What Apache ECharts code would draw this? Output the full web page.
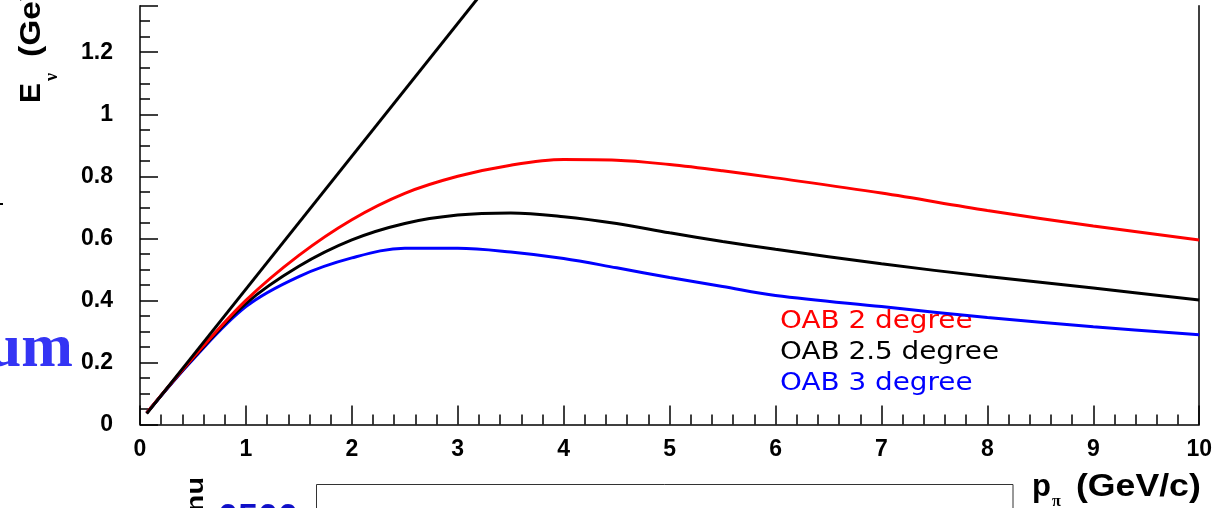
<!DOCTYPE html>
<html>
<head>
<meta charset="utf-8">
<script src="https://cdn.jsdelivr.net/npm/echarts@6/dist/echarts.min.js"></script>
<style>
html,body{margin:0;padding:0;background:#fff;}
#chart{width:1215px;height:508px;}
</style>
</head>
<body>
<div id="chart"></div>
<script>
// ---- data ----
const seriesNames = ['OAB 2 degree', 'OAB 2.5 degree', 'OAB 3 degree'];
const seriesColors = ['#ff0000', '#000000', '#0000ff'];
const pPion  = [0.063, 0.5, 1, 1.5, 2, 2.5, 3, 3.5, 4, 4.5, 5, 5.5, 6, 7, 8, 9, 10];
const eOAB2  = [0.037, 0.215, 0.40, 0.545, 0.66, 0.745, 0.80, 0.836, 0.854, 0.852, 0.838, 0.818, 0.795, 0.746, 0.69, 0.64, 0.595];
const eOAB25 = [0.037, 0.213, 0.39, 0.51, 0.595, 0.648, 0.675, 0.682, 0.67, 0.648, 0.618, 0.59, 0.565, 0.518, 0.477, 0.44, 0.401];
const eOAB3  = [0.037, 0.21, 0.38, 0.477, 0.537, 0.568, 0.568, 0.556, 0.535, 0.505, 0.474, 0.445, 0.416, 0.38, 0.345, 0.315, 0.289];
const onAxisP = [0.063, 3.25];
const onAxisE = [0.035, 1.40];
const xTicks = [0, 1, 2, 3, 4, 5, 6, 7, 8, 9, 10];
const yTickStep = 0.2;

const chart = echarts.init(document.getElementById('chart'), null, {renderer: 'canvas'});

const labelFont = {fontFamily: 'Liberation Sans', fontWeight: 'bold', fontSize: 23, color: '#000'};
const zip = (xs, ys) => xs.map((x, i) => [x, ys[i]]);
const curveSeries = [eOAB2, eOAB25, eOAB3].map((vals, i) => ({
  name: seriesNames[i], type: 'line', data: zip(pPion, vals), smooth: 0.35,
  showSymbol: false, symbol: 'none', lineStyle: {color: seriesColors[i], width: 3}, z: 3 - i
}));

const option = {
  animation: false,
  backgroundColor: '#fff',
  grid: {left: 140, right: 12.3, top: 5.7, bottom: 83.5, containLabel: false},
  xAxis: {
    type: 'value', min: xTicks[0], max: xTicks[xTicks.length - 1], interval: 1,
    axisLine: {show: true, lineStyle: {color: '#000', width: 1.5}},
    axisTick: {show: true, inside: true, length: 19, lineStyle: {color: '#000', width: 1.5}},
    minorTick: {show: true, splitNumber: 5, length: 10, lineStyle: {color: '#000', width: 1.5}},
    splitLine: {show: false},
    axisLabel: Object.assign({margin: 14}, labelFont)
  },
  yAxis: [{
    type: 'value', min: 0, max: 1.35, interval: yTickStep,
    axisLine: {show: true, lineStyle: {color: '#000', width: 1.5}},
    axisTick: {show: true, inside: true, length: 18, lineStyle: {color: '#000', width: 1.5}},
    minorTick: {show: true, splitNumber: 4, length: 10, lineStyle: {color: '#000', width: 1.5}},
    splitLine: {show: false},
    axisLabel: Object.assign({margin: 27, showMaxLabel: false}, labelFont)
  }, {
    type: 'value', min: 0, max: 1.35, position: 'right',
    axisLine: {show: true, onZero: false, lineStyle: {color: '#000', width: 1.5}},
    axisTick: {show: false}, axisLabel: {show: false}, splitLine: {show: false}
  }],
  series: [
    {name: 'on-axis', type: 'line', data: zip(onAxisP, onAxisE), clip: false,
     showSymbol: false, symbol: 'none', lineStyle: {color: '#000', width: 3}, z: 4}
  ].concat(curveSeries),
  graphic: [
    // legend-like labels
    ...seriesNames.map((n, i) => ({
      type: 'text', x: 780, y: 322 + i * 31, scaleX: 1.16,
      style: {text: n, fill: seriesColors[i], font: '24px "DejaVu Sans"', align: 'left', verticalAlign: 'middle'}
    })),
    // y axis title (rotated, cut at top)
    {type: 'text', x: 32, y: 103, rotation: Math.PI / 2,
     style: {text: 'E', fill: '#000', font: 'bold 30px "Liberation Sans"', align: 'left', verticalAlign: 'middle'}},
    {type: 'text', x: 52, y: 81, rotation: Math.PI / 2,
     style: {text: 'ν', fill: '#000', font: 'bold 18px "Liberation Serif"', align: 'left', verticalAlign: 'middle'}},
    {type: 'text', x: 32, y: 57, rotation: Math.PI / 2, scaleX: 1.12,
     style: {text: '(GeV)', fill: '#000', font: 'bold 30px "Liberation Sans"', align: 'left', verticalAlign: 'middle'}},
    // x axis title
    {type: 'text', x: 1032, y: 487,
     style: {text: 'p', fill: '#000', font: 'bold 31px "Liberation Sans"', align: 'left', verticalAlign: 'middle'}},
    {type: 'text', x: 1052, y: 502,
     style: {text: 'π', fill: '#000', font: 'bold 16px "Liberation Serif"', align: 'left', verticalAlign: 'middle'}},
    {type: 'text', x: 1076, y: 487, scaleX: 1.15,
     style: {text: '(GeV/c)', fill: '#000', font: 'bold 31px "Liberation Sans"', align: 'left', verticalAlign: 'middle'}},
    // surrounding slide fragments
    {type: 'text', x: 73, y: 350,
     style: {text: 'um', fill: '#3434f4', font: 'bold 62px "Liberation Serif"', align: 'right', verticalAlign: 'middle'}},
    {type: 'rect', shape: {x: 0, y: 203, width: 3, height: 2}, style: {fill: '#000'}},
    {type: 'text', x: 208, y: 477, rotation: Math.PI / 2, scaleX: 1.2,
     style: {text: 'nu', fill: '#000', font: 'bold 24px "Liberation Sans"', align: 'right', verticalAlign: 'bottom'}},
    {type: 'text', x: 218, y: 502,
     style: {text: '0500', fill: '#1010c8', font: 'bold 36px "Liberation Sans"', align: 'left', verticalAlign: 'top'}},
    {type: 'rect', shape: {x: 316.5, y: 484.5, width: 696.5, height: 40}, style: {fill: 'none', stroke: '#333', lineWidth: 1}}
  ]
};
chart.setOption(option);
</script>
</body>
</html>
